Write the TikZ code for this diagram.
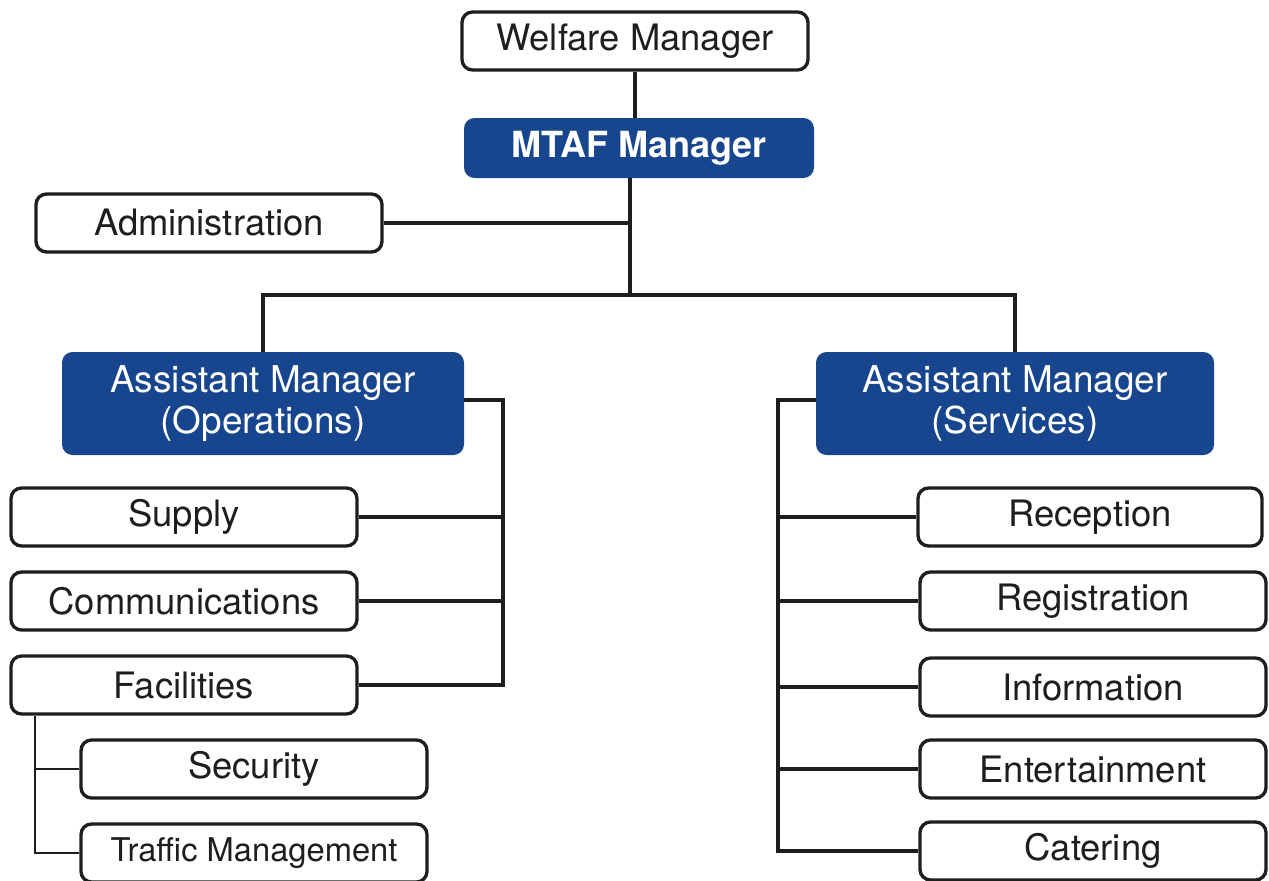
\documentclass[tikz,border=0pt]{standalone}
\usepackage{fontspec}
\setmainfont{TeX Gyre Heros}
\usepackage{tikz}
\usetikzlibrary{positioning}
\definecolor{mtafblue}{RGB}{24,70,142}
\definecolor{ink}{RGB}{30,30,30}

\begin{document}
\begin{tikzpicture}[
unit/.style={rectangle, rounded corners=6pt, draw=ink, line width=1.9pt, fill=white,
  text=ink, inner sep=0pt, minimum width=6.92cm, minimum height=1.16cm,
  font=\fontsize{20.7}{24}\selectfont},
head/.style={rectangle, rounded corners=6pt, fill=mtafblue, text=white, inner sep=0pt,
  align=center, font=\fontsize{21}{23.8}\selectfont},
trunk/.style={line width=2.6pt, ink},
branch/.style={line width=1.9pt, ink},
twig/.style={line width=1.3pt, ink}
]
\useasboundingbox (0,0) rectangle (25.38,-17.6);
% top of the tree
\node[unit] (WM) at (12.70,-0.82) {Welfare Manager};
\node[head, minimum width=7cm, minimum height=1.2cm, font=\bfseries\fontsize{20.5}{24}\selectfont] (MTAF) at (12.78,-2.96) {MTAF Manager};
\node[unit] (Admin) at (4.18,-4.46) {Administration};
\coordinate (hub) at (12.60,-5.90);
% assistant managers
\node[head, minimum width=8.04cm, minimum height=2.06cm] (AO) at (5.26,-8.07) {Assistant Manager\\(Operations)};
\node[head, minimum width=7.96cm, minimum height=2.06cm] (AS) at (20.30,-8.07) {Assistant Manager\\(Services)};
% operations side
\node[unit] (Supply) at (3.68,-10.34) {Supply};
\node[unit] (Comm) at (3.68,-12.02) {Communications};
\node[unit] (Fac) at (3.68,-13.70) {Facilities};
\node[unit] (Sec) at (5.08,-15.38) {Security};
\node[unit, font=\fontsize{18.6}{22}\selectfont] (Traffic) at (5.08,-17.06) {Traffic Management};
\coordinate (OB) at (10.06,-8.0);
\coordinate (FB) at (0.70,-13.70);
% services side
\node[unit, minimum width=6.88cm] (Recep) at (21.80,-10.34) {Reception};
\node[unit] (Regis) at (21.86,-12.02) {Registration};
\node[unit] (Info) at (21.86,-13.74) {Information};
\node[unit] (Ent) at (21.86,-15.38) {Entertainment};
\node[unit] (Cat) at (21.86,-17.02) {Catering};
\coordinate (SB) at (15.56,-8.0);
% connectors
\draw[trunk] (WM.south) -- (WM.south |- MTAF.north);
\draw[trunk] (MTAF.south -| hub) -- (hub);
\draw[branch] (Admin.east) -- (Admin.east -| hub);
\draw[trunk] (AO.north) |- (hub) -| (AS.north);
\draw[branch] (AO.east |- OB) -- (OB) |- (Fac.east);
\draw[branch] (Supply.east) -- (Supply.east -| OB);
\draw[branch] (Comm.east) -- (Comm.east -| OB);
\draw[twig] (Fac.south -| FB) |- (Traffic.west);
\draw[twig] (Sec.west) -- (Sec.west -| FB);
\draw[branch] (AS.west |- SB) -- (SB) |- (Cat.west);
\foreach \s in {Recep, Regis, Info, Ent}
  \draw[branch] (\s.west) -- (\s.west -| SB);
\end{tikzpicture}
\end{document}
